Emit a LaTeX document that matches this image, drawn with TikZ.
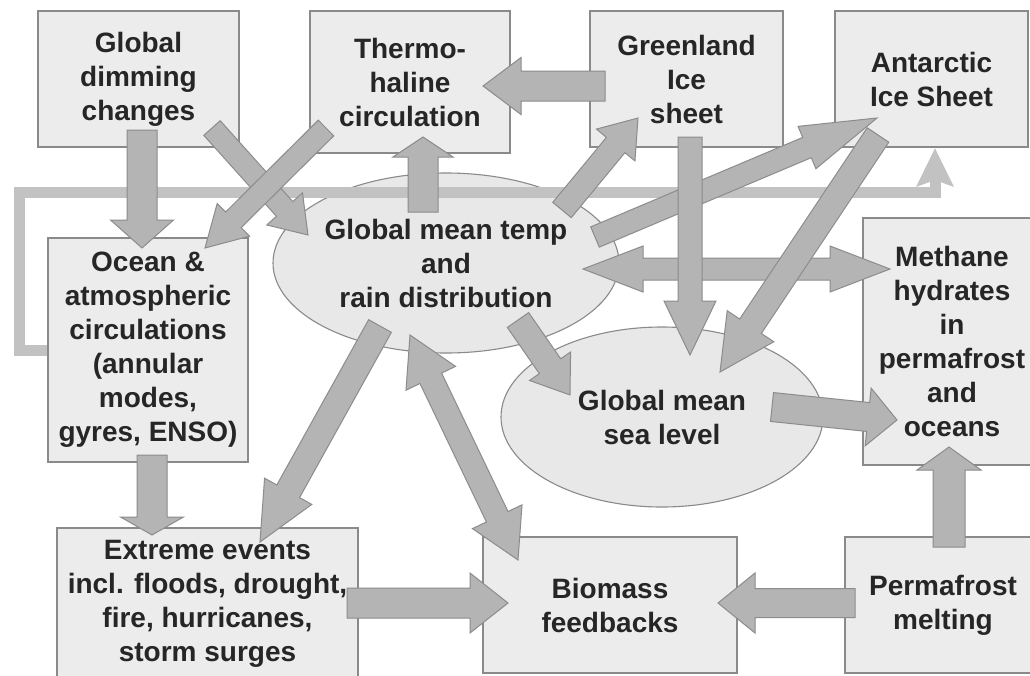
\documentclass[tikz,border=0pt]{standalone}
\usepackage{fontspec}
\setmainfont{Liberation Sans}
\usetikzlibrary{arrows.meta,shapes.geometric}
\definecolor{textcol}{HTML}{262626}
\definecolor{boxfill}{HTML}{ECECEC}
\definecolor{boxdraw}{HTML}{8A8A8A}
\definecolor{ellfill}{HTML}{E8E8E8}
\definecolor{arrowfill}{HTML}{B4B4B4}
\definecolor{arrowdraw}{HTML}{8C8C8C}
\definecolor{loopcol}{HTML}{C2C2C2}
\newcommand\lblfont{\bfseries\fontsize{28}{34}\selectfont}
\tikzset{
  box/.style={rectangle, draw=boxdraw, fill=boxfill, line width=1.3pt, inner sep=0pt,
    align=center, font=\lblfont, text=textcol},
  ell/.style={ellipse, draw=boxdraw, fill=ellfill, line width=1.1pt, inner sep=0pt,
    align=center, font=\lblfont, text=textcol},
  fat/.style={fill=arrowfill, draw=arrowdraw, line width=1pt, line join=miter},
  loopline/.style={draw=loopcol, line width=11pt, line join=miter,
    -{Stealth[length=38pt,width=36pt,inset=6pt]}}
}
% single-headed block arrow: from, to, shaft width, head width, head length
\newcommand\fatarrow[5]{%
  \path (#1); \pgfgetlastxy{\faAx}{\faAy}%
  \path (#2); \pgfgetlastxy{\faBx}{\faBy}%
  \pgfmathsetmacro\faAng{atan2(\faBy-\faAy,\faBx-\faAx)}%
  \pgfmathsetmacro\faLen{veclen(\faBx-\faAx,\faBy-\faAy)}%
  \pgfmathsetmacro\faS{#3/2}\pgfmathsetmacro\faH{#4/2}\pgfmathsetmacro\faB{\faLen-#5}%
  \filldraw[fat,shift={(\faAx,\faAy)},rotate=\faAng]
    (0pt,-\faS pt) -- (\faB pt,-\faS pt) -- (\faB pt,-\faH pt) -- (\faLen pt,0pt)
    -- (\faB pt,\faH pt) -- (\faB pt,\faS pt) -- (0pt,\faS pt) -- cycle;
}
% double-headed block arrow
\newcommand\fatdarrow[5]{%
  \path (#1); \pgfgetlastxy{\faAx}{\faAy}%
  \path (#2); \pgfgetlastxy{\faBx}{\faBy}%
  \pgfmathsetmacro\faAng{atan2(\faBy-\faAy,\faBx-\faAx)}%
  \pgfmathsetmacro\faLen{veclen(\faBx-\faAx,\faBy-\faAy)}%
  \pgfmathsetmacro\faS{#3/2}\pgfmathsetmacro\faH{#4/2}\pgfmathsetmacro\faB{\faLen-#5}%
  \filldraw[fat,shift={(\faAx,\faAy)},rotate=\faAng]
    (0pt,0pt) -- (#5pt,\faH pt) -- (#5pt,\faS pt) -- (\faB pt,\faS pt) -- (\faB pt,\faH pt)
    -- (\faLen pt,0pt) -- (\faB pt,-\faH pt) -- (\faB pt,-\faS pt) -- (#5pt,-\faS pt)
    -- (#5pt,-\faH pt) -- cycle;
}
\begin{document}
\begin{tikzpicture}[x=1pt,y=-1pt]
\useasboundingbox (0,0) rectangle (1030,675);
\fill[white] (0,0) rectangle (1030,675);
\clip (0,0) rectangle (1030,675);

% boxes
\node[box, minimum width=201pt, minimum height=136pt] (dim) at (138.5,79) {Global\\dimming\\changes};
\node[box, minimum width=200pt, minimum height=142pt] (thc) at (410,82) {Thermo-\\haline\\circulation};
\node[box, minimum width=193pt, minimum height=136pt] (grn) at (686.5,79) {Greenland\\Ice\\sheet};
\node[box, minimum width=193pt, minimum height=136pt] (ant) at (931.5,79) {Antarctic\\Ice Sheet};
\node[box, minimum width=178pt, minimum height=247pt] (meth) at (952,341.5) {Methane\\hydrates\\in\\permafrost\\and\\oceans};
\node[box, minimum width=200pt, minimum height=224pt] (ocean) at (148,350) {Ocean \&\\atmospheric\\circulations\\(annular\\modes,\\gyres, ENSO)};
\node[box, minimum width=301pt, minimum height=152pt] (ext) at (207.5,604) {Extreme events\\incl. floods, drought,\\fire, hurricanes,\\storm surges};
\node[box, minimum width=254pt, minimum height=136pt] (bio) at (610,605) {Biomass\\feedbacks};
\node[box, minimum width=196pt, minimum height=136pt] (perm) at (943,605) {Permafrost\\melting};

% ellipses
\node[ell, minimum width=346pt, minimum height=180pt] (temp) at (446,263) {Global mean temp\\and\\rain distribution};
\node[ell, minimum width=322pt, minimum height=180pt] (sea) at (662,417) {Global mean\\sea level};

% feedback loop line
\coordinate (l1) at (19,350);
\coordinate (l2) at (19,192);
\coordinate (l3) at (935,192);
\coordinate (loopend) at (935,148);
\draw[loopline] (ocean.west) -- (l1) -- (l2) -- (l3) -- (loopend);

% arrow end points
\coordinate (a1s) at (142,130);  \coordinate (a1e) at (142,248);
\coordinate (a2s) at (212,128);  \coordinate (a2e) at (308,235);
\coordinate (a3s) at (326,128);  \coordinate (a3e) at (205,248);
\coordinate (a4s) at (423,212);  \coordinate (a4e) at (423,137);
\coordinate (a5s) at (605,86);   \coordinate (a5e) at (483,86);
\coordinate (a6s) at (562,210);  \coordinate (a6e) at (638,118);
\coordinate (a7s) at (690,137);  \coordinate (a7e) at (690,355);
\coordinate (a8s) at (595,237);  \coordinate (a8e) at (877,118);
\coordinate (a9s) at (878,135);  \coordinate (a9e) at (720,372);
\coordinate (a10s) at (583,269); \coordinate (a10e) at (890,269);
\coordinate (a11s) at (518,320); \coordinate (a11e) at (570,395);
\coordinate (a12s) at (380,326); \coordinate (a12e) at (260,542);
\coordinate (a13s) at (410,335); \coordinate (a13e) at (518,560);
\coordinate (a14s) at (152,455); \coordinate (a14e) at (152,535);
\coordinate (a15s) at (347,603); \coordinate (a15e) at (508,603);
\coordinate (a16s) at (772,407); \coordinate (a16e) at (897,420);
\coordinate (a17s) at (949,547); \coordinate (a17e) at (949,447);
\coordinate (a18s) at (855,603); \coordinate (a18e) at (718,603);

% block arrows
\fatarrow{a1s}{a1e}{30}{63}{28}
\fatarrow{a2s}{a2e}{22}{48}{35}
\fatarrow{a3s}{a3e}{22}{46}{40}
\fatarrow{a4s}{a4e}{30}{60}{20}
\fatarrow{a5s}{a5e}{30}{57}{38}
\fatarrow{a6s}{a6e}{24}{50}{35}
\fatdarrow{a10s}{a10e}{22}{46}{60}
\fatarrow{a8s}{a8e}{22}{46}{76}
\fatarrow{a7s}{a7e}{24}{52}{54}
\fatarrow{a9s}{a9e}{26}{56}{55}
\fatarrow{a11s}{a11e}{26}{50}{35}
\fatarrow{a12s}{a12e}{26}{54}{58}
\fatdarrow{a13s}{a13e}{24}{55}{48}
\fatarrow{a14s}{a14e}{30}{63}{18}
\fatarrow{a15s}{a15e}{30}{60}{38}
\fatarrow{a16s}{a16e}{29}{58}{29}
\fatarrow{a17s}{a17e}{32}{64}{23}
\fatarrow{a18s}{a18e}{29}{60}{37}
\end{tikzpicture}
\end{document}
